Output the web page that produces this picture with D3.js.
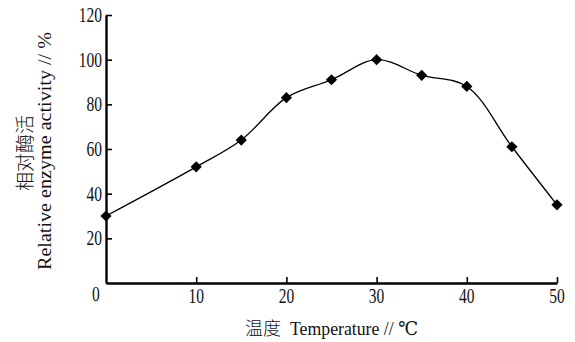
<!DOCTYPE html>
<html>
<head>
<meta charset="utf-8">
<script src="https://cdn.jsdelivr.net/npm/d3@7"></script>
<style>
  body { margin: 0; background: #fff; }
  svg { display: block; }
  text { font-family: "Liberation Serif", "DejaVu Serif", serif; fill: #111; }
  .cjk { font-family: "Noto Sans CJK SC", sans-serif; font-weight: 300; }
</style>
</head>
<body>
<svg id="chart" width="575" height="342"></svg>
<script>
// Temperature (°C) and relative enzyme activity (%)
const temperature = [0, 10, 15, 20, 25, 30, 35, 40, 45, 50];
const activity    = [30, 52, 64, 83, 91, 100, 93, 88, 61, 35];
const xTicks = [10, 20, 30, 40, 50];
const yTicks = [20, 40, 60, 80, 100, 120];

const svg = d3.select("#chart");
const margin = { left: 106, right: 18, top: 15, bottom: 59 };
const W = 575, H = 342;

const x = d3.scaleLinear().domain([0, 50]).range([margin.left, W - margin.right]);
const y = d3.scaleLinear().domain([0, 120]).range([H - margin.bottom, margin.top]);

// narrow serif numerals
const sx = 0.74;
const numSize = "21px";

// x axis
const xAxis = svg.append("g")
  .attr("transform", `translate(0,${y(0)})`)
  .call(d3.axisBottom(x).tickValues(xTicks).tickSizeInner(-6).tickSizeOuter(0).tickPadding(0).tickFormat(""));
xAxis.select(".domain").attr("stroke", "#000").attr("stroke-width", 2.4);
xAxis.selectAll(".tick line").attr("stroke", "#000").attr("stroke-width", 1.6);

// y axis
const yAxis = svg.append("g")
  .attr("transform", `translate(${x(0)},0)`)
  .call(d3.axisLeft(y).tickValues(yTicks).tickSizeInner(-6).tickSizeOuter(0).tickFormat(""));
yAxis.select(".domain").attr("stroke", "#000").attr("stroke-width", 2.4);
yAxis.selectAll(".tick line").attr("stroke", "#000").attr("stroke-width", 1.6);

// tick labels
svg.append("g").selectAll("text").data(xTicks).join("text")
  .attr("transform", d => `translate(${x(d)},${y(0) + 20}) scale(${sx},1)`)
  .attr("text-anchor", "middle")
  .style("font-size", numSize)
  .text(d => d);

svg.append("g").selectAll("text").data(yTicks).join("text")
  .attr("transform", d => `translate(${x(0) - 4},${y(d) + 7}) scale(${sx},1)`)
  .attr("text-anchor", "end")
  .style("font-size", numSize)
  .text(d => d);

// shared origin label
svg.append("text")
  .attr("transform", `translate(${x(0) - 10},${y(0) + 18}) scale(${sx},1)`)
  .attr("text-anchor", "middle")
  .style("font-size", numSize)
  .text("0");

// smooth response curve
const line = d3.line()
  .x((d, i) => x(temperature[i]))
  .y(d => y(d))
  .curve(d3.curveCatmullRom.alpha(0.5));

svg.append("path")
  .datum(activity)
  .attr("d", line)
  .attr("fill", "none")
  .attr("stroke", "#000")
  .attr("stroke-width", 1.3);

// diamond markers
const diamond = d3.symbol().type(d3.symbolDiamond2).size(80);
svg.append("g").selectAll("path").data(activity).join("path")
  .attr("transform", (d, i) => `translate(${x(temperature[i])},${y(d)})`)
  .attr("d", diamond)
  .attr("fill", "#000");

// x title
const xt = svg.append("text")
  .attr("x", 245)
  .attr("y", 335)
  .style("font-size", "19px");
xt.append("tspan").attr("class", "cjk").style("font-size", "18px").text("温度");
xt.append("tspan").attr("x", 290).attr("textLength", 128).attr("lengthAdjust", "spacingAndGlyphs")
  .text("Temperature // ℃");

// y title (two lines, rotated)
svg.append("text")
  .attr("class", "cjk")
  .attr("transform", `translate(32,153) rotate(-90)`)
  .attr("text-anchor", "middle")
  .style("font-size", "19px")
  .text("相对酶活");
svg.append("text")
  .attr("transform", `translate(51,151) rotate(-90)`)
  .attr("text-anchor", "middle")
  .attr("textLength", 238)
  .attr("lengthAdjust", "spacingAndGlyphs")
  .style("font-size", "19px")
  .text("Relative enzyme activity // %");
</script>
</body>
</html>
